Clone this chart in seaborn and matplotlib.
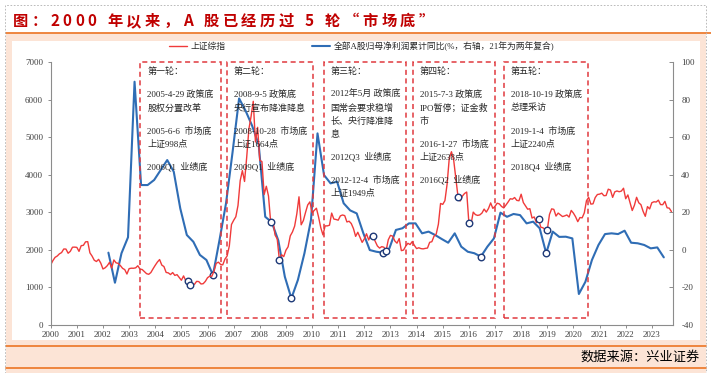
import numpy as np
import pandas as pd
import matplotlib.pyplot as plt
import matplotlib.transforms as mtransforms
from matplotlib.patches import Rectangle
from matplotlib.lines import Line2D
import seaborn as sns

# ---- data ----
# 上证综指, month-end values 2000-01 .. 2023-10
sh_2000 = [1600, 1714, 1800, 1836, 1894, 1928, 2023, 2021, 1910, 1961, 2070, 2073]
sh_2001 = [2066, 1960, 2112, 2120, 2214, 2218, 1921, 1834, 1724, 1690, 1747, 1646]
sh_2002 = [1491, 1523, 1580, 1667, 1515, 1732, 1655, 1640, 1581, 1508, 1474, 1357]
sh_2003 = [1500, 1512, 1510, 1521, 1577, 1487, 1477, 1421, 1367, 1349, 1397, 1497]
sh_2004 = [1590, 1676, 1742, 1595, 1555, 1399, 1387, 1342, 1396, 1320, 1340, 1266]
sh_2005 = [1191, 1306, 1181, 1159, 1060, 1080, 1083, 1162, 1155, 1092, 1099, 1161]
sh_2006 = [1258, 1299, 1298, 1440, 1642, 1672, 1612, 1601, 1753, 1837, 2099, 2675]
sh_2007 = [2786, 2881, 3183, 3841, 4109, 3820, 4471, 5218, 5552, 5954, 4871, 5261]
sh_2008 = [4383, 4348, 3472, 3693, 3433, 2736, 2775, 2397, 2293, 1728, 1871, 1820]
sh_2009 = [1990, 2082, 2373, 2477, 2632, 2959, 3412, 2667, 2779, 2996, 3195, 3277]
sh_2010 = [2989, 3051, 3109, 2870, 2592, 2398, 2638, 2638, 2656, 2979, 2820, 2808]
sh_2011 = [2790, 2905, 2928, 2911, 2743, 2762, 2701, 2567, 2359, 2468, 2333, 2199]
sh_2012 = [2292, 2428, 2262, 2396, 2373, 2225, 2103, 2047, 2086, 2069, 1980, 2269]
sh_2013 = [2385, 2365, 2236, 2178, 2300, 1979, 1994, 2098, 2175, 2141, 2220, 2116]
sh_2014 = [2033, 2056, 2033, 2026, 2039, 2048, 2201, 2217, 2364, 2420, 2683, 3235]
sh_2015 = [3210, 3310, 3748, 4441, 4612, 4400, 3900, 3420, 3300, 3430, 3500, 3539]
sh_2016 = [2720, 2688, 3004, 2938, 2917, 2930, 2979, 3085, 3005, 3100, 3250, 3104]
sh_2017 = [3159, 3242, 3223, 3155, 3117, 3192, 3273, 3361, 3349, 3393, 3317, 3307]
sh_2018 = [3481, 3259, 3169, 3082, 3095, 2847, 2876, 2725, 2821, 2603, 2588, 2540]
sh_2019 = [2530, 2941, 3091, 3078, 2899, 2979, 2933, 2886, 2905, 2929, 2872, 3050]
sh_2020 = [2977, 2880, 2750, 2860, 2852, 2985, 3310, 3396, 3218, 3225, 3392, 3473]
sh_2021 = [3483, 3509, 3441, 3447, 3615, 3591, 3397, 3544, 3568, 3547, 3564, 3640]
sh_2022 = [3361, 3462, 3252, 3047, 3186, 3399, 3253, 3202, 3024, 2893, 3151, 3089]
sh_2023 = [3255, 3280, 3273, 3323, 3205, 3202, 3291, 3120, 3110, 3019]

# 全部A股归母净利润累计同比 (%), quarterly 2002Q1 .. 2023Q2
profit_yoy = [
    -1.5, -17.5, -1.8, 6.7,      # 2002
    89.5, 34.5, 34.5, 37.2,      # 2003
    42.5, 47.8, 41.6, 22.0,      # 2004
    7.9, 4.3, -2.7, -5.4,        # 2005
    -13.4, 5.2, 24.8, 52.0,      # 2006
    80.6, 74.0, 66.0, 56.0,      # 2007
    17.6, 14.7, 5.0, -14.3,      # 2008
    -25.8, -16.0, -1.8, 15.9,    # 2009
    62.0, 39.8, 35.4, 36.3,      # 2010
    24.8, 21.0, 19.4, 9.0,       # 2011
    -0.1, -1.0, -1.5, 0.8,       # 2012
    10.6, 11.5, 14.1, 14.1,      # 2013
    8.8, 9.7, 7.9, 5.8,          # 2014
    3.8, 8.8, 1.7, -1.0,         # 2015
    -1.8, -3.6, 1.7, 6.1,        # 2016
    19.8, 17.6, 19.1, 18.5,      # 2017
    14.1, 15.0, 11.5, -1.8,      # 2018
    9.7, 6.9, 7.0, 6.1,          # 2019
    -23.5, -17.0, -5.4, 2.6,     # 2020
    8.4, 8.8, 8.4, 10.2,         # 2021
    3.8, 3.5, 2.6, 0.8,          # 2022
    1.3, -4.0,                   # 2023
]

# circled points
sh_marks = ["2005-04", "2005-05", "2008-06", "2008-10", "2012-05", "2012-11",
            "2015-08", "2016-01", "2018-09", "2019-01"]
profit_marks = ["2006Q1", "2009Q1", "2012Q3", "2016Q2", "2018Q4"]

# the five rounds
round_spans = [(2003.43, 2006.51), (2006.74, 2010.05), (2010.44, 2013.61),
               (2013.85, 2017.00), (2017.34, 2020.55)]
round_texts = [
    [["第一轮："], ["2005-4-29 政策底", "股权分置改革"], ["2005-6-6  市场底", "上证998点"], ["2006Q1  业绩底"]],
    [["第二轮："], ["2008-9-5 政策底", "央行宣布降准降息"], ["2008-10-28  市场底", "上证1664点"], ["2009Q1  业绩底"]],
    [["第三轮："], ["2012年5月 政策底", "国常会要求稳增", "长、央行降准降", "息"], ["2012Q3  业绩底"],
     ["2012-12-4  市场底", "上证1949点"]],
    [["第四轮："], ["2015-7-3 政策底", "IPO暂停；证金救", "市"], ["2016-1-27  市场底", "上证2638点"], ["2016Q2  业绩底"]],
    [["第五轮："], ["2018-10-19 政策底", "总理采访"], ["2019-1-4  市场底", "上证2240点"], ["2018Q4  业绩底"]],
]

title = "图：2000 年以来，A 股已经历过 5 轮“市场底”"
source = "数据来源：兴业证券"
red_label = "上证综指"
blue_label = "全部A股归母净利润累计同比(%，右轴，21年为两年复合)"

# ---- frames ----
sh_values = (sh_2000 + sh_2001 + sh_2002 + sh_2003 + sh_2004 + sh_2005 + sh_2006 + sh_2007
             + sh_2008 + sh_2009 + sh_2010 + sh_2011 + sh_2012 + sh_2013 + sh_2014 + sh_2015
             + sh_2016 + sh_2017 + sh_2018 + sh_2019 + sh_2020 + sh_2021 + sh_2022 + sh_2023)
months = pd.period_range("2000-01", periods=len(sh_values), freq="M")
sh = pd.DataFrame({"x": months.year + (months.month - 1) / 12, "v": sh_values},
                  index=months.strftime("%Y-%m"))

quarters = pd.period_range("2002Q1", periods=len(profit_yoy), freq="Q")
pf = pd.DataFrame({"x": quarters.year + (3 * quarters.quarter - 0.5) / 12, "v": profit_yoy},
                  index=[str(q) for q in quarters])

RED = "#F03A3A"
BLUE = "#2F6DB5"
BOX = "#E0393E"
RING = "#1F3A78"
PEACH = "#FCE4D6"
ORANGE = "#ED7D31"
GREY = "#8C8C8C"
TXT = "#262626"

sns.set_style("white")
SERIF = ["Liberation Serif", "Noto Sans CJK SC"]
CJK = ["Noto Sans CJK SC", "DejaVu Sans"]
plt.rcParams["font.family"] = SERIF
plt.rcParams["axes.unicode_minus"] = False

W, H = 711, 373
fig = plt.figure(figsize=(W / 100, H / 100), dpi=100)
fig.patch.set_facecolor("white")


def fx(px):
    return px / W


def fy(py):
    return 1 - py / H


def band(x0, y0, x1, y1, color):
    fig.patches.append(Rectangle((fx(x0), fy(y1)), fx(x1) - fx(x0), fy(y0) - fy(y1),
                                 transform=fig.transFigure, facecolor=color,
                                 edgecolor="none", zorder=-3))


band(6, 33, 706, 373, PEACH)
band(12, 41, 700, 340, "white")
for yy, x_end in [(33, 711), (346, 706), (368, 706)]:
    fig.lines.append(Line2D([fx(6), fx(x_end)], [fy(yy), fy(yy)], transform=fig.transFigure,
                            color=ORANGE, lw=1.3, zorder=-2))
fig.patches.append(Rectangle((fx(5), fy(373)), fx(706) - fx(5), fy(5) - fy(373),
                             transform=fig.transFigure, fill=False, edgecolor="#B0B0B0",
                             lw=0.6, ls=(0, (2, 2)), zorder=-2))

# ---- axes ----
ax = fig.add_axes([fx(50.7), fy(325), fx(673) - fx(50.7), fy(62) - fy(325)])
ax2 = ax.twinx()
ax2.set_zorder(1)
ax.set_zorder(2)
ax.patch.set_visible(False)
ax2.patch.set_visible(False)

sns.lineplot(data=pf, x="x", y="v", ax=ax2, color=BLUE, lw=1.5, legend=False)
sns.scatterplot(data=pf.loc[profit_marks], x="x", y="v", ax=ax2, s=22, color="white",
                edgecolor=RING, linewidth=1.0, zorder=5, legend=False)
sns.lineplot(data=sh, x="x", y="v", ax=ax, color=RED, lw=1.0, legend=False)
sns.scatterplot(data=sh.loc[sh_marks], x="x", y="v", ax=ax, s=22, color="white",
                edgecolor=RING, linewidth=1.0, zorder=5, legend=False)

ax.set_xlim(2000, 2023.81)
ax.set_ylim(0, 7000)
ax2.set_ylim(-40, 100)
ax.set_xticks(range(2000, 2024))
ax.set_xticklabels([str(y) for y in range(2000, 2024)])
ax.set_yticks(range(0, 7001, 1000))
ax2.set_yticks(range(-40, 101, 20))
ax.set_xlabel("")
ax.set_ylabel("")
ax2.set_ylabel("")

for s in ["top", "right"]:
    ax.spines[s].set_visible(False)
for s in ["top", "left", "bottom"]:
    ax2.spines[s].set_visible(False)
for sp in [ax.spines["left"], ax.spines["bottom"], ax2.spines["right"]]:
    sp.set_color(GREY)
    sp.set_linewidth(0.8)

ax.tick_params(axis="x", bottom=True, direction="out", length=2.5, width=0.7, color=GREY,
               labelsize=6.5, labelcolor="#404040", pad=1.5)
ax.tick_params(axis="y", left=True, direction="out", length=2.5, width=0.7, color=GREY,
               labelsize=6.5, labelcolor="#404040", pad=3.0)
ax2.tick_params(axis="y", right=True, direction="in", length=3, width=0.7, color=GREY,
                labelsize=6.5, labelcolor="#404040", pad=6.0)

# ---- dashed round boxes with notes ----
blend = mtransforms.blended_transform_factory(ax.transData, ax.transAxes)
for (x0, x1), groups in zip(round_spans, round_texts):
    ax.add_patch(Rectangle((x0, 0.027), x1 - x0, 0.973, transform=blend, fill=False,
                           edgecolor=BOX, lw=1.1, ls=(0, (3.3, 2.3)), clip_on=False, zorder=4))
    ypx = 72.0
    for gi, lines in enumerate(groups):
        if gi > 0:
            ypx += 22.8 - 13.2
        for line in lines:
            ax.text(x0 + 0.27, (325 - ypx) / 263, line, transform=blend, fontsize=6.5,
                    color=TXT, va="center", ha="left", family=SERIF, zorder=6)
            ypx += 13.2

# ---- legend ----
fig.legend(handles=[ax.lines[0], ax2.lines[0]], labels=[red_label, blue_label],
           loc="center left", bbox_to_anchor=(fx(169), fy(46)), ncol=2, frameon=False,
           handlelength=2.1, handletextpad=0.4, columnspacing=9.8,
           borderpad=0, borderaxespad=0, prop={"family": SERIF, "size": 6.3})

# ---- title, letter by letter ----
prev = ax.annotate(title[0], xy=(fx(12.5), fy(29)), xycoords="figure fraction",
                   fontsize=11, fontweight="bold", color="#C00000", family=CJK,
                   ha="left", va="bottom", annotation_clip=False)
for ch in title[1:]:
    prev = ax.annotate(ch, xy=(1, 0), xycoords=prev, xytext=(2.6, 0),
                       textcoords="offset points", fontsize=11, fontweight="bold",
                       color="#C00000", family=CJK, ha="left", va="bottom",
                       annotation_clip=False)

fig.text(fx(700), fy(357), source, fontsize=9.5, color="black", family=CJK,
         ha="right", va="center")

fig.savefig("out.png", dpi=100)
